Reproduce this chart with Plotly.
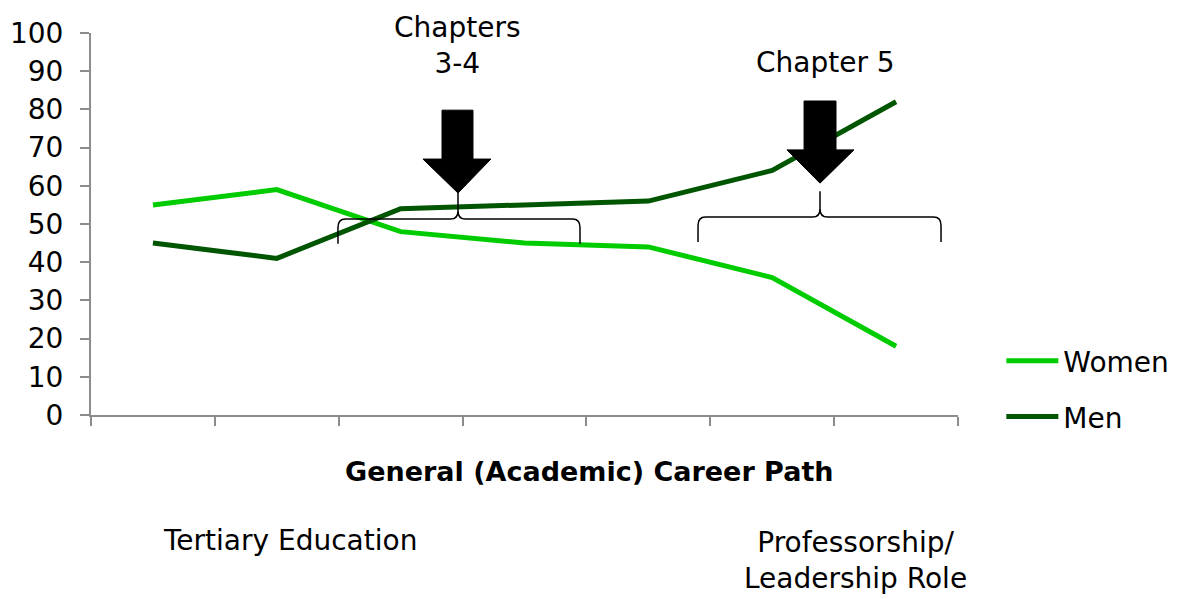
import plotly.graph_objects as go

stages = [0, 1, 2, 3, 4, 5, 6]
women = [55, 59, 48, 45, 44, 36, 18]
men = [45, 41, 54, 55, 56, 64, 82]
y_ticks = [0, 10, 20, 30, 40, 50, 60, 70, 80, 90, 100]
boundaries = [-0.5, 0.5, 1.5, 2.5, 3.5, 4.5, 5.5, 6.5]

FONT = "DejaVu Sans, Liberation Sans, Arial, sans-serif"
FS = 28
WOMEN_C = "#00CC00"
MEN_C = "#005500"

fig = go.Figure()
fig.add_trace(go.Scatter(x=stages, y=women, mode="lines", name="Women",
                         line=dict(color=WOMEN_C, width=5), legend="legend"))
fig.add_trace(go.Scatter(x=stages, y=men, mode="lines", name="Men",
                         line=dict(color=MEN_C, width=5), legend="legend2"))


def arrow_path(xl, xr, hl, hr, xt, ytop, yhead, ytip):
    return (f"M {xl},{ytop} L {xr},{ytop} L {xr},{yhead} L {hr},{yhead} "
            f"L {xt},{ytip} L {hl},{yhead} L {xl},{yhead} Z")


def brace_path(x0, x1, xc, yh, yend, ytip, dx=0.06, dy=2.2):
    return (f"M {x0},{yend} L {x0},{yh - dy} Q {x0},{yh} {x0 + dx},{yh} "
            f"L {xc - dx},{yh} Q {xc},{yh} {xc},{yh + dy} L {xc},{ytip} "
            f"M {xc},{yh + dy} Q {xc},{yh} {xc + dx},{yh} "
            f"L {x1 - dx},{yh} Q {x1},{yh} {x1},{yh - dy} L {x1},{yend}")


shapes = [
    dict(type="path", xref="x", yref="y",
         path=arrow_path(2.334, 2.584, 2.180, 2.729, 2.463, 79.8, 67.0, 58.1),
         fillcolor="black", line=dict(color="black", width=1)),
    dict(type="path", xref="x", yref="y",
         path=arrow_path(5.257, 5.515, 5.119, 5.660, 5.386, 82.2, 69.4, 60.7),
         fillcolor="black", line=dict(color="black", width=1)),
    dict(type="path", xref="x", yref="y",
         path=brace_path(1.494, 3.448, 2.463, 51.3, 44.8, 58.1),
         line=dict(color="black", width=1.5)),
    dict(type="path", xref="x", yref="y",
         path=brace_path(4.401, 6.363, 5.386, 51.8, 45.3, 58.6),
         line=dict(color="black", width=1.5)),
]

annotations = [
    dict(text="Chapters<br>3-4", x=2.463, xref="x", y=0.968, yref="paper",
         showarrow=False, xanchor="center", yanchor="middle",
         font=dict(size=FS, color="black", family=FONT)),
    dict(text="Chapter 5", x=5.434, xref="x", y=0.924, yref="paper",
         showarrow=False, xanchor="center", yanchor="middle",
         font=dict(size=FS, color="black", family=FONT)),
    dict(text="<b>General (Academic) Career Path</b>", x=0.5755, xref="paper",
         y=-0.1466, yref="paper", showarrow=False, xanchor="center", yanchor="middle",
         font=dict(size=27, color="black", family=FONT)),
    dict(text="Tertiary Education", x=0.2295, xref="paper",
         y=-0.3298, yref="paper", showarrow=False, xanchor="center", yanchor="middle",
         font=dict(size=FS, color="black", family=FONT)),
    dict(text="Professorship/<br>Leadership Role", x=0.882, xref="paper",
         y=-0.381, yref="paper", showarrow=False, xanchor="center", yanchor="middle",
         font=dict(size=FS, color="black", family=FONT)),
]

legend_common = dict(font=dict(size=FS, color="black", family=FONT),
                     bgcolor="rgba(0,0,0,0)", itemwidth=52,
                     xanchor="left", yanchor="middle", xref="paper", yref="paper")

fig.update_layout(
    width=1182, height=599,
    margin=dict(l=91, r=224, t=33, b=184, autoexpand=False),
    paper_bgcolor="white", plot_bgcolor="white",
    font=dict(family=FONT, size=FS, color="black"),
    showlegend=True,
    legend=dict(x=1.05, y=0.141, **legend_common),
    legend2=dict(x=1.05, y=-0.005, **legend_common),
    xaxis=dict(range=[-0.5, 6.5], tickvals=boundaries, ticktext=[""] * len(boundaries),
               ticks="outside", ticklen=9, tickwidth=2, tickcolor="#8c8c8c",
               showline=True, linecolor="#8c8c8c", linewidth=2, automargin=False,
               showgrid=False, zeroline=False, fixedrange=True),
    yaxis=dict(range=[0, 100], tickvals=y_ticks, ticks="outside", ticklen=9,
               tickwidth=2, tickcolor="#8c8c8c", showline=True, linecolor="#8c8c8c",
               linewidth=2, showgrid=False, zeroline=False, ticklabelstandoff=11,
               automargin=False,
               tickfont=dict(size=FS, color="black", family=FONT)),
    shapes=shapes,
    annotations=annotations,
)

fig.write_html("out.html")
